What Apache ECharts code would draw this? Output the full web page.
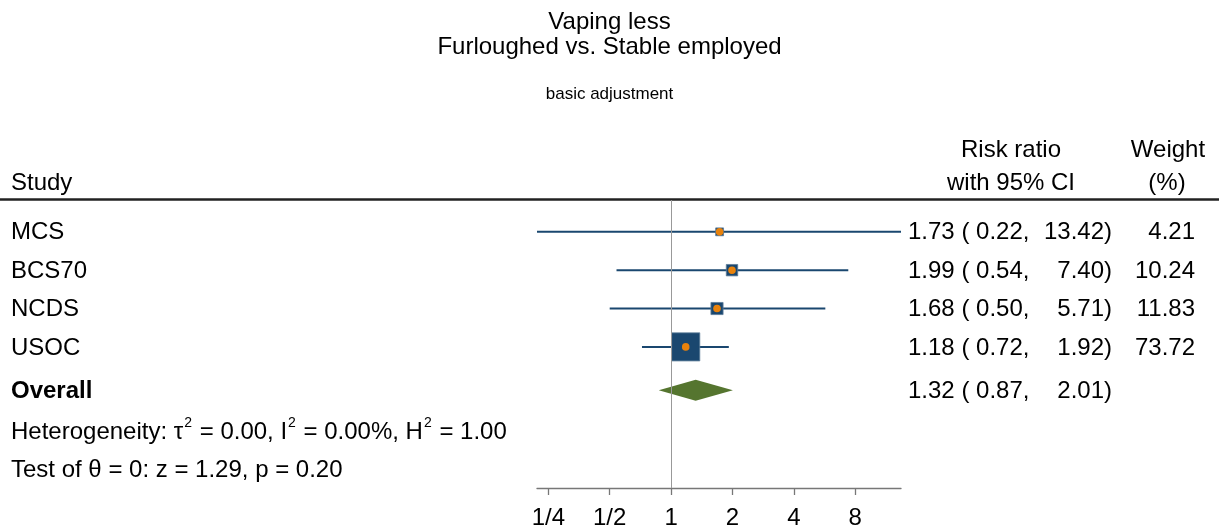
<!DOCTYPE html>
<html>
<head>
<meta charset="utf-8">
<script src="https://cdn.jsdelivr.net/npm/echarts@6/dist/echarts.min.js"></script>
<style>
  html, body { margin: 0; padding: 0; background: #fff; }
  #chart { width: 1219px; height: 530px; }
</style>
</head>
<body>
<div id="chart"></div>
<script>
// Study-level estimates (risk ratios, 95% CI bounds, weights in %)
const studies = ['MCS', 'BCS70', 'NCDS', 'USOC'];
const riskRatio = [1.73, 1.99, 1.68, 1.18];
const ciLower = [0.22, 0.54, 0.50, 0.72];
const ciUpper = [13.42, 7.40, 5.71, 1.92];
const weights = [4.21, 10.24, 11.83, 73.72];

// Pooled estimate
const overallLabel = 'Overall';
const overallRR = 1.32;
const overallLower = 0.87;
const overallUpper = 2.01;

// Heterogeneity statistics and test of overall effect
const tau2 = 0.00, i2 = 0.00, h2 = 1.00;
const zStat = 1.29, pValue = 0.20;

// Axis ticks (ratio scale, log base 2)
const tickValues = [0.25, 0.5, 1, 2, 4, 8];
const tickLabels = ['1/4', '1/2', '1', '2', '4', '8'];

const FONT = '"Liberation Sans", Arial, sans-serif';
const FS = 24;
const NAVY = '#1a476f';
const ORANGE = '#e8820c';
const GREEN = '#55752f';

// vertical row placement (axis units, inverted)
const overallRow = 5.13;

const fmt = v => v.toFixed(2);
const log2 = v => Math.log2(v);

const studyData = studies.map((s, i) => [
  log2(riskRatio[i]), i + 1, log2(ciLower[i]), log2(ciUpper[i]), weights[i], i
]);

function textEl(x, y, str, align, extra) {
  return {
    type: 'text',
    style: Object.assign({
      x: x, y: y, text: str, align: align || 'left', verticalAlign: 'middle',
      font: FS + 'px ' + FONT, fill: '#000'
    }, extra || {})
  };
}

function renderStudy(params, api) {
  const i = api.value(5);
  const c = api.coord([api.value(0), api.value(1)]);
  const lo = api.coord([api.value(2), api.value(1)]);
  const hi = api.coord([api.value(3), api.value(1)]);
  const side = 3.1 * Math.sqrt(api.value(4)) + 1.5;
  const y = c[1];
  const ty = y + 1;
  return {
    type: 'group',
    children: [
      { type: 'line', shape: { x1: lo[0], y1: y, x2: hi[0], y2: y },
        style: { stroke: NAVY, lineWidth: 2 } },
      { type: 'rect', shape: { x: c[0] - side / 2, y: y - side / 2, width: side, height: side },
        style: { fill: NAVY, stroke: '#5d7c99', lineWidth: 0.8 } },
      { type: 'circle', shape: { cx: c[0], cy: y, r: 3.8 }, style: { fill: ORANGE } },
      textEl(11, ty, studies[i]),
      textEl(908, ty, fmt(riskRatio[i]) + ' ( ' + fmt(ciLower[i]) + ','),
      textEl(1112, ty, fmt(ciUpper[i]) + ')', 'right'),
      textEl(1195, ty, fmt(weights[i]), 'right')
    ]
  };
}

function renderOverall(params, api) {
  const c = api.coord([api.value(0), api.value(1)]);
  const lo = api.coord([api.value(2), api.value(1)]);
  const hi = api.coord([api.value(3), api.value(1)]);
  const y = c[1];
  const h = 10.5;
  return {
    type: 'group',
    children: [
      { type: 'polygon',
        shape: { points: [[lo[0], y], [c[0], y - h], [hi[0], y], [c[0], y + h]] },
        style: { fill: GREEN } },
      textEl(11, y + 1, overallLabel, 'left', { font: 'bold ' + FS + 'px ' + FONT }),
      textEl(908, y + 1, fmt(overallRR) + ' ( ' + fmt(overallLower) + ','),
      textEl(1112, y + 1, fmt(overallUpper) + ')', 'right')
    ]
  };
}

// rich-text styles for the heterogeneity line with raised exponents
const richStyles = {
  n: { fontSize: FS, fontFamily: FONT, fill: '#000', lineHeight: 28, verticalAlign: 'bottom' },
  s: { fontSize: 14, fontFamily: FONT, fill: '#000', lineHeight: 28, verticalAlign: 'top', padding: [0, 1, 0, 1] }
};
const hetText =
  '{n|Heterogeneity: τ}{s|2}{n| = ' + fmt(tau2) + ', I}{s|2}{n| = ' + fmt(i2) +
  '%, H}{s|2}{n| = ' + fmt(h2) + '}';
const testText = 'Test of θ = 0: z = ' + fmt(zStat) + ', p = ' + fmt(pValue);

const chart = echarts.init(document.getElementById('chart'), null, { renderer: 'canvas' });

chart.setOption({
  animation: false,
  backgroundColor: '#fff',
  title: [
    { text: 'Vaping less\nFurloughed vs. Stable employed', left: 'center', top: 5,
      textStyle: { fontFamily: FONT, fontSize: FS, fontWeight: 'normal', color: '#000', lineHeight: 25 } },
    { text: 'basic adjustment', left: 'center', top: 80,
      textStyle: { fontFamily: FONT, fontSize: 17, fontWeight: 'normal', color: '#000', lineHeight: 18 } }
  ],
  grid: { left: 537, top: 200, width: 364, height: 289 },
  xAxis: {
    type: 'value',
    min: log2(0.22),
    max: log2(13.42),
    splitLine: { show: false },
    axisLine: { show: true, lineStyle: { color: '#777', width: 1.3 } },
    axisTick: { show: true, length: 7, lineStyle: { color: '#777', width: 1.3 },
      customValues: tickValues.map(log2) },
    axisLabel: {
      customValues: tickValues.map(log2),
      margin: 18,
      fontSize: FS, fontFamily: FONT, color: '#000',
      formatter: v => {
        const k = tickValues.findIndex(t => Math.abs(log2(t) - v) < 1e-6);
        return k >= 0 ? tickLabels[k] : '';
      }
    }
  },
  yAxis: { type: 'value', inverse: true, min: 0.17, max: 7.68, show: false },
  graphic: [
    { type: 'line', shape: { x1: 0, y1: 199.5, x2: 1219, y2: 199.5 },
      style: { stroke: '#222', lineWidth: 2.5 } },
    textEl(11, 183, 'Study'),
    textEl(1011, 150, 'Risk ratio', 'center'),
    textEl(1011, 183, 'with 95% CI', 'center'),
    textEl(1168, 150, 'Weight', 'center'),
    textEl(1167, 183, '(%)', 'center'),
    { type: 'text', style: { x: 11, y: 430, text: hetText, rich: richStyles,
        align: 'left', verticalAlign: 'middle', font: FS + 'px ' + FONT, fill: '#000' } },
    textEl(11, 470, testText)
  ],
  series: [
    {
      type: 'custom',
      renderItem: renderStudy,
      data: studyData,
      z: 3,
      markLine: {
        silent: true, symbol: 'none', label: { show: false },
        lineStyle: { color: '#999', width: 1, type: 'solid' },
        data: [{ xAxis: 0 }]
      }
    },
    {
      type: 'custom',
      renderItem: renderOverall,
      data: [[log2(overallRR), overallRow, log2(overallLower), log2(overallUpper)]],
      z: 3
    }
  ]
});
</script>
</body>
</html>
